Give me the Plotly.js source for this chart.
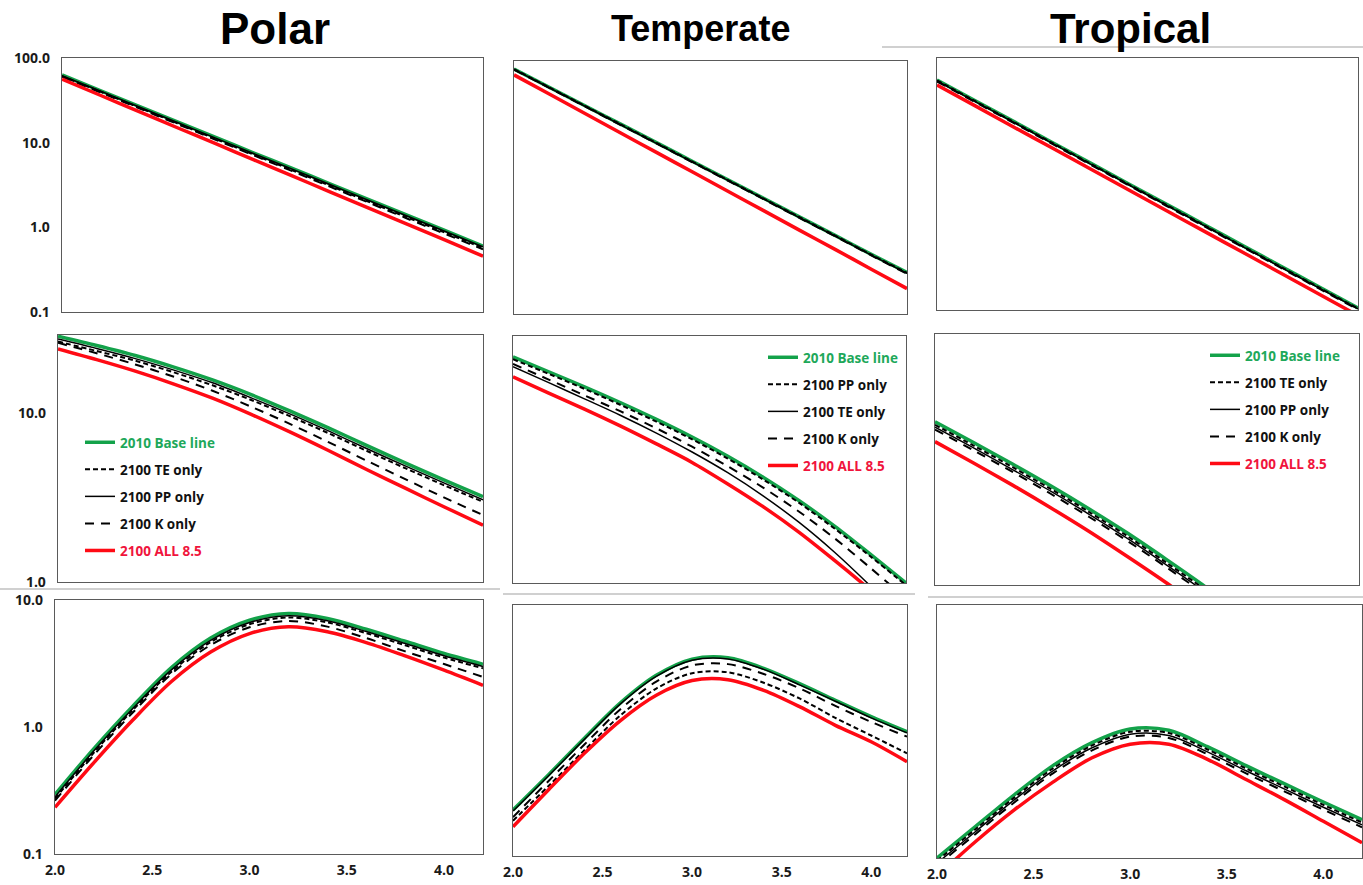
<!DOCTYPE html>
<html><head><meta charset="utf-8">
<script src="https://cdn.plot.ly/plotly-3.0.1.min.js"></script>
<style>html,body{margin:0;padding:0;background:#fff}#chart{width:1363px;height:885px}</style>
</head><body><div id="chart"></div>
<script>
// ---------- DATA ----------
const xVals = [2.0, 2.2, 2.4, 2.6, 2.8, 3.0, 3.2, 3.4, 3.6, 3.8, 4.0, 4.2];
const regionTitles = ['Polar', 'Temperate', 'Tropical'];
const xTickVals = [2.0, 2.5, 3.0, 3.5, 4.0];
const xTickText = ['2.0', '2.5', '3.0', '3.5', '4.0'];
const topTickVals = [0.1, 1, 10, 100];
const topTickText = ['0.1', '1.0', '10.0', '100.0'];
const midTickVals = [1, 10];
const midTickText = ['1.0', '10.0'];
const lowTickVals = [0.1, 1, 10];
const lowTickText = ['0.1', '1.0', '10.0'];

// legend names per column (order: base, short-dash, solid, long-dash, all)
const polarNames = ['2010 Base line', '2100 TE only', '2100 PP only', '2100 K only', '2100 ALL 8.5'];
const temperateNames = ['2010 Base line', '2100 PP only', '2100 TE only', '2100 K only', '2100 ALL 8.5'];
const tropicalNames = ['2010 Base line', '2100 TE only', '2100 PP only', '2100 K only', '2100 ALL 8.5'];

// Row 1
const polarTopBase = [63, 41.3, 27.1, 17.7, 11.6, 7.6, 5.0, 3.27, 2.14, 1.40, 0.92, 0.60];
const polarTopTE   = [61, 40, 26.1, 17.0, 11.1, 7.25, 4.75, 3.1, 2.02, 1.32, 0.87, 0.57];
const polarTopPP   = [62, 40.7, 26.6, 17.4, 11.4, 7.45, 4.9, 3.2, 2.09, 1.37, 0.90, 0.59];
const polarTopK    = [60, 39.2, 25.6, 16.7, 10.9, 7.1, 4.64, 3.02, 1.97, 1.28, 0.84, 0.55];
const polarTopAll  = [56.2, 36.3, 23.4, 15.1, 9.8, 6.3, 4.07, 2.63, 1.70, 1.10, 0.71, 0.456];

const temperateTopBase = [80.5, 48.5, 29.3, 17.7, 10.7, 6.43, 3.88, 2.34, 1.41, 0.85, 0.51, 0.31];
const temperateTopPP   = [80, 48.2, 29.1, 17.6, 10.6, 6.38, 3.85, 2.32, 1.40, 0.845, 0.505, 0.307];
const temperateTopTE   = [79.5, 47.9, 28.9, 17.4, 10.5, 6.32, 3.81, 2.30, 1.38, 0.835, 0.50, 0.303];
const temperateTopK    = [79, 47.6, 28.7, 17.3, 10.45, 6.28, 3.78, 2.28, 1.37, 0.83, 0.495, 0.30];
const temperateTopAll  = [68.4, 40.3, 23.7, 13.9, 8.19, 4.82, 2.84, 1.67, 0.98, 0.58, 0.34, 0.20];

const tropicalTopBase = [54.7, 31.0, 17.6, 9.95, 5.64, 3.19, 1.81, 1.03, 0.58, 0.33, 0.187, 0.106];
const tropicalTopTE   = [54, 30.6, 17.35, 9.8, 5.55, 3.14, 1.78, 1.01, 0.57, 0.323, 0.183, 0.104];
const tropicalTopPP   = [53.5, 30.3, 17.2, 9.7, 5.5, 3.11, 1.76, 1.0, 0.565, 0.32, 0.181, 0.103];
const tropicalTopK    = [52.5, 29.8, 16.9, 9.55, 5.41, 3.06, 1.73, 0.98, 0.556, 0.315, 0.178, 0.101];
const tropicalTopAll  = [47.7, 26.9, 15.1, 8.53, 4.80, 2.70, 1.52, 0.857, 0.483, 0.272, 0.153, 0.086];

// Row 2
const polarMidBase = [28.5, 25.1, 21.9, 18.7, 15.7, 12.85, 10.3, 8.17, 6.41, 5.05, 4.01, 3.20];
const polarMidTE   = [26.5, 23.3, 20.4, 17.4, 14.6, 11.95, 9.58, 7.6, 5.96, 4.70, 3.73, 2.98];
const polarMidPP   = [27.4, 24.1, 21.0, 17.95, 15.1, 12.3, 9.89, 7.84, 6.15, 4.85, 3.85, 3.07];
const polarMidK    = [26.05, 22.6, 19.4, 16.4, 13.55, 10.9, 8.63, 6.73, 5.21, 4.05, 3.16, 2.49];
const polarMidAll  = [23.97, 20.7, 17.7, 14.85, 12.25, 9.82, 7.73, 6.0, 4.62, 3.58, 2.78, 2.17];

const temperateMidBase = [21.8, 17.8, 14.5, 11.7, 9.33, 7.33, 5.64, 4.23, 3.08, 2.17, 1.48, 1.0];
const temperateMidPP   = [21.1, 17.3, 14.1, 11.35, 9.05, 7.11, 5.47, 4.10, 2.99, 2.10, 1.44, 0.97];
const temperateMidTE   = [19.05, 15.35, 12.3, 9.84, 7.74, 5.98, 4.51, 3.28, 2.29, 1.52, 0.962, 0.593];
const temperateMidK    = [19.8, 16.0, 12.9, 10.4, 8.26, 6.43, 4.92, 3.67, 2.65, 1.84, 1.23, 0.81];
const temperateMidAll  = [16.6, 13.3, 10.7, 8.51, 6.68, 5.19, 3.87, 2.83, 2.0, 1.36, 0.91, 0.60];

const tropicalMidBase = [8.93, 6.76, 5.08, 3.78, 2.77, 2.0, 1.41, 0.982, 0.668, 0.447, 0.292, 0.186];
const tropicalMidTE   = [8.57, 6.49, 4.88, 3.63, 2.66, 1.92, 1.35, 0.943, 0.641, 0.429, 0.280, 0.179];
const tropicalMidPP   = [8.30, 6.29, 4.72, 3.52, 2.58, 1.86, 1.31, 0.913, 0.621, 0.416, 0.272, 0.173];
const tropicalMidK    = [8.04, 6.08, 4.57, 3.40, 2.49, 1.80, 1.27, 0.884, 0.601, 0.402, 0.263, 0.167];
const tropicalMidAll  = [6.84, 5.14, 3.83, 2.82, 2.05, 1.46, 1.03, 0.711, 0.484, 0.324, 0.214, 0.138];

// Row 3
const polarLowBase = [0.294, 0.676, 1.46, 2.95, 5.01, 6.93, 7.83, 7.16, 5.89, 4.73, 3.79, 3.12];
const polarLowTE   = [0.273, 0.629, 1.36, 2.74, 4.66, 6.44, 7.28, 6.66, 5.48, 4.40, 3.52, 2.90];
const polarLowPP   = [0.282, 0.649, 1.40, 2.83, 4.81, 6.65, 7.52, 6.87, 5.65, 4.54, 3.64, 3.0];
const polarLowK    = [0.263, 0.603, 1.30, 2.63, 4.42, 6.10, 6.84, 6.17, 5.01, 3.94, 3.13, 2.48];
const polarLowAll  = [0.233, 0.525, 1.135, 2.29, 3.89, 5.44, 6.15, 5.62, 4.62, 3.63, 2.80, 2.13];

const temperateLowBase = [0.233, 0.447, 0.871, 1.66, 2.75, 3.70, 3.80, 3.13, 2.36, 1.74, 1.29, 0.977];
const temperateLowPP   = [0.191, 0.363, 0.70, 1.32, 2.16, 2.86, 2.91, 2.40, 1.80, 1.26, 0.912, 0.658];
const temperateLowTE   = [0.228, 0.438, 0.854, 1.63, 2.70, 3.63, 3.72, 3.07, 2.31, 1.71, 1.26, 0.957];
const temperateLowK    = [0.204, 0.398, 0.776, 1.48, 2.45, 3.30, 3.38, 2.82, 2.17, 1.57, 1.17, 0.893];
const temperateLowAll  = [0.171, 0.339, 0.661, 1.20, 1.91, 2.50, 2.54, 2.09, 1.55, 1.10, 0.813, 0.564];

const tropicalLowBase = [0.10, 0.178, 0.316, 0.537, 0.813, 1.047, 1.023, 0.759, 0.537, 0.385, 0.277, 0.201];
const tropicalLowTE   = [0.095, 0.169, 0.30, 0.51, 0.772, 0.995, 0.972, 0.721, 0.510, 0.366, 0.263, 0.191];
const tropicalLowPP   = [0.091, 0.162, 0.288, 0.489, 0.74, 0.953, 0.931, 0.691, 0.489, 0.350, 0.252, 0.183];
const tropicalLowK    = [0.087, 0.155, 0.275, 0.467, 0.707, 0.911, 0.89, 0.66, 0.467, 0.335, 0.241, 0.175];
const tropicalLowAll  = [0.072, 0.135, 0.240, 0.398, 0.617, 0.794, 0.794, 0.603, 0.417, 0.288, 0.195, 0.132];

// ---------- BUILD ----------
const W = 1363, H = 885;
const GREEN = '#13a24a', RED = '#ff0a14', BLACK = '#000000';
const styles = [
  {color: GREEN, width: 3.5, dash: 'solid'},
  {color: BLACK, width: 2, dash: '5px,3px'},
  {color: BLACK, width: 1.5, dash: 'solid'},
  {color: BLACK, width: 2, dash: '9px,7px'},
  {color: RED, width: 3.5, dash: 'solid'}
];
const panels = [
  {series: [polarTopBase, polarTopTE, polarTopPP, polarTopK, polarTopAll], box: [62, 483, 58, 312], yr: [-1, 2], tv: topTickVals, tt: topTickText},
  {series: [temperateTopBase, temperateTopPP, temperateTopTE, temperateTopK, temperateTopAll], box: [514, 907, 61, 314], yr: [-1, 2], tv: topTickVals, tt: topTickText},
  {series: [tropicalTopBase, tropicalTopTE, tropicalTopPP, tropicalTopK, tropicalTopAll], box: [937, 1358, 58, 310], yr: [-1, 2], tv: topTickVals, tt: topTickText},
  {series: [polarMidBase, polarMidTE, polarMidPP, polarMidK, polarMidAll], box: [58, 483, 335, 582], yr: [0, 1.462], tv: midTickVals, tt: midTickText, names: polarNames, legend: 'legend'},
  {series: [temperateMidBase, temperateMidPP, temperateMidTE, temperateMidK, temperateMidAll], box: [513, 906, 336, 583], yr: [0, 1.462], tv: midTickVals, tt: midTickText, names: temperateNames, legend: 'legend2'},
  {series: [tropicalMidBase, tropicalMidTE, tropicalMidPP, tropicalMidK, tropicalMidAll], box: [935, 1359, 334, 585], yr: [0, 1.462], tv: midTickVals, tt: midTickText, names: tropicalNames, legend: 'legend3'},
  {series: [polarLowBase, polarLowTE, polarLowPP, polarLowK, polarLowAll], box: [55, 483, 600, 854], yr: [-1, 1], tv: lowTickVals, tt: lowTickText},
  {series: [temperateLowBase, temperateLowPP, temperateLowTE, temperateLowK, temperateLowAll], box: [513, 907, 605, 856], yr: [-1, 1], tv: lowTickVals, tt: lowTickText},
  {series: [tropicalLowBase, tropicalLowTE, tropicalLowPP, tropicalLowK, tropicalLowAll], box: [937, 1362, 605, 858], yr: [-1, 1], tv: lowTickVals, tt: lowTickText}
];

const tickFont = {family: 'Open Sans, Arial, sans-serif', size: 14, color: '#1a1a1a', weight: 'bold'};
const traces = [];
const layout = {
  width: W, height: H,
  margin: {l: 0, r: 0, t: 0, b: 0},
  paper_bgcolor: '#ffffff', plot_bgcolor: '#ffffff',
  showlegend: true, hovermode: false,
  annotations: [], shapes: []
};

panels.forEach((p, i) => {
  const n = i + 1;
  const xa = 'x' + (n === 1 ? '' : n), ya = 'y' + (n === 1 ? '' : n);
  const row = Math.floor(i / 3), col = i % 3;
  p.series.forEach((s, k) => {
    const st = styles[k];
    const t = {
      x: xVals, y: s, xaxis: xa, yaxis: ya, type: 'scatter', mode: 'lines',
      line: {color: st.color, width: st.width, dash: st.dash, shape: 'spline', smoothing: 0.9},
      showlegend: false
    };
    if (p.names) {
      let nm = p.names[k];
      if (k === 0) nm = '<span style="color:#1ea85a">' + nm + '</span>';
      if (k === 4) nm = '<span style="color:#f0143c">' + nm + '</span>';
      t.name = nm;
      t.showlegend = true;
      t.legend = p.legend;
      t.legendgroup = p.legend + '_' + k;
    }
    traces.push(t);
  });
  const [x0, x1, y0, y1] = p.box;
  const xKey = 'xaxis' + (n === 1 ? '' : n), yKey = 'yaxis' + (n === 1 ? '' : n);
  layout[xKey] = {
    domain: [x0 / W, x1 / W], anchor: ya, range: [2.0, 4.2],
    showgrid: false, zeroline: false, showline: true, mirror: true,
    linecolor: '#5a5a5a', linewidth: 1.3,
    tickvals: xTickVals, ticktext: xTickText, ticks: '',
    showticklabels: row === 2, tickfont: tickFont, ticklabelstandoff: 3
  };
  layout[yKey] = {
    domain: [1 - y1 / H, 1 - y0 / H], anchor: xa, type: 'log', range: p.yr,
    showgrid: false, zeroline: false, showline: true, mirror: true,
    linecolor: '#5a5a5a', linewidth: 1.3,
    tickvals: p.tv, ticktext: p.tt, ticks: '',
    showticklabels: col === 0, tickfont: tickFont, ticklabelstandoff: 8
  };
});

const legendBase = {
  xanchor: 'left', yanchor: 'top', bgcolor: 'rgba(0,0,0,0)', borderwidth: 0,
  font: {family: 'Open Sans, Arial, sans-serif', size: 13.5, color: '#111111', weight: 'bold'},
  traceorder: 'grouped', tracegroupgap: 6.5, itemwidth: 30
};
layout.legend = Object.assign({}, legendBase, {x: 80 / W, y: 1 - 427 / H});
layout.legend2 = Object.assign({}, legendBase, {x: 763 / W, y: 1 - 342 / H});
layout.legend3 = Object.assign({}, legendBase, {x: 1205 / W, y: 1 - 340 / H});

// region titles
const titleX = [275, 700, 1130];
const titleSize = [44, 36, 42];
regionTitles.forEach((t, i) => {
  layout.annotations.push({
    text: '<b>' + t + '</b>', xref: 'paper', yref: 'paper',
    x: titleX[i] / W, y: 1 - 28 / H, xanchor: 'center', yanchor: 'middle',
    showarrow: false, font: {family: 'Liberation Sans, Arial, sans-serif', size: titleSize[i], color: '#000'}
  });
});

// faint separators from the composed figure
const sep = [[0, 500, 589, 589], [503, 915, 594, 594], [928, 1363, 597, 597], [882, 1363, 47, 47]];
sep.forEach(s => layout.shapes.push({
  type: 'line', xref: 'paper', yref: 'paper',
  x0: s[0] / W, x1: s[1] / W, y0: 1 - s[2] / H, y1: 1 - s[3] / H,
  line: {color: '#d0d0d0', width: 2}
}));

Plotly.newPlot('chart', traces, layout, {staticPlot: true, displayModeBar: false});
</script>
</body></html>
